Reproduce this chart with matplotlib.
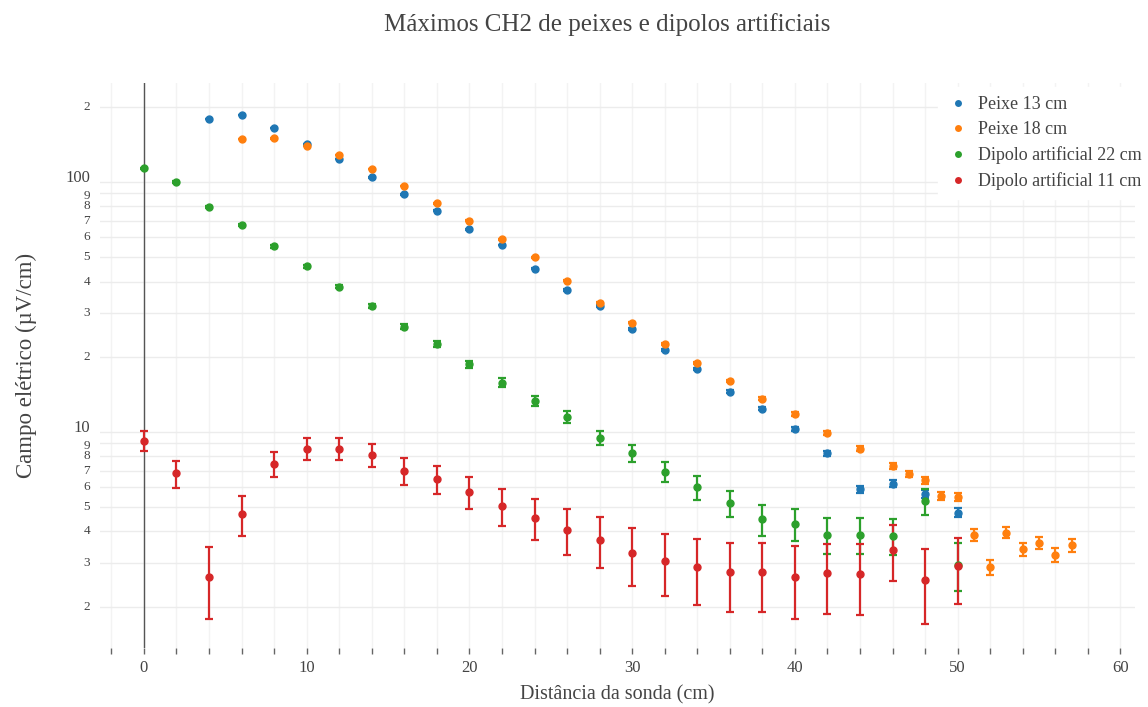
import matplotlib

matplotlib.use("Agg")
import matplotlib.pyplot as plt
import matplotlib.transforms as mtransforms
import numpy as np
from matplotlib.lines import Line2D
from matplotlib.ticker import FixedLocator, NullLocator

plt.rcParams["font.family"] = ["Liberation Serif", "DejaVu Serif"]

# ---------------------------------------------------------------------------
# data
# ---------------------------------------------------------------------------
peixe13_x = list(range(4, 51, 2))
peixe13_y = [178.6, 185.4, 164.9, 142.3, 123.3, 104.4, 89.3, 76.8, 64.7, 56.0,
             45.0, 37.0, 31.9, 25.8, 21.3, 17.9, 14.5, 12.4, 10.28, 8.22,
             5.90, 6.21, 5.65, 4.75]
peixe13_err = 0.2

peixe18_x = list(range(6, 47, 2)) + list(range(47, 58))
peixe18_y = [148.6, 149.5, 139.7, 127.9, 113.0, 96.4, 82.2, 70.0, 59.0, 50.1,
             40.3, 32.9, 27.4, 22.5, 18.9, 16.0, 13.6, 11.8, 9.94, 8.58,
             7.31, 6.78, 6.41, 5.53, 5.48, 3.88, 2.88, 3.96, 3.40, 3.59,
             3.23, 3.52]
peixe18_err = 0.2

dipolo22_x = list(range(0, 51, 2))
dipolo22_y = [113.4, 100.0, 79.7, 67.3, 55.3, 46.0, 38.2, 31.9, 26.4, 22.55,
              18.66, 15.75, 13.34, 11.48, 9.49, 8.24, 6.94, 6.01, 5.19, 4.48,
              4.30, 3.88, 3.88, 3.85, 5.28, 2.95]
dipolo22_err = 0.64

dipolo11_x = list(range(0, 51, 2))
dipolo11_y = [9.23, 6.84, 2.63, 4.70, 7.47, 8.58, 8.58, 8.09, 7.00, 6.49,
              5.75, 5.07, 4.54, 4.06, 3.70, 3.27, 3.05, 2.88, 2.75, 2.75,
              2.64, 2.72, 2.70, 3.38, 2.56, 2.91]
dipolo11_err = 0.85

series = [
    ("Peixe 13 cm", peixe13_x, peixe13_y, peixe13_err, "#1f77b4"),
    ("Peixe 18 cm", peixe18_x, peixe18_y, peixe18_err, "#ff7f0e"),
    ("Dipolo artificial 22 cm", dipolo22_x, dipolo22_y, dipolo22_err, "#2ca02c"),
    ("Dipolo artificial 11 cm", dipolo11_x, dipolo11_y, dipolo11_err, "#d62728"),
]

y_major = [10, 100]
y_minor = [2, 3, 4, 5, 6, 7, 8, 9, 20, 30, 40, 50, 60, 70, 80, 90, 200]

TXT = "#444444"
GRID = "#ececec"

fig = plt.figure(figsize=(11.48, 7.07), dpi=100)
ax = fig.add_axes([0.0871, 0.0835, 0.9016, 0.7991])

for label, x, y, err, color in series:
    ax.errorbar(x, y, yerr=err, fmt="o", color=color, ms=5,
                elinewidth=1.6, capsize=3.2, capthick=1.6, zorder=3)

ax.set_yscale("log")
ax.set_ylim(1.368, 249)
ax.set_xlim(-2.7, 60.9)

# y ticks: gridlines from the locator, labels drawn by hand so the
# crowded "10"/"9" and "100"/"9" pairs can be nudged apart
ticks = sorted(y_major + y_minor)
ax.yaxis.set_major_locator(FixedLocator(ticks))
ax.yaxis.set_minor_locator(NullLocator())
ax.tick_params(axis="y", length=0, labelleft=False)
ylab_tr = mtransforms.blended_transform_factory(ax.transAxes, ax.transData)
for t in ticks:
    if t in y_major:
        s, size, dy = str(t), 12, 4
    else:
        s, size = str(t)[0], 9.5
        dy = -2.5 if t in (9, 90) else 0
    off = mtransforms.ScaledTranslation(0, dy / 100, fig.dpi_scale_trans)
    ax.text(-0.0097, t, s, transform=ylab_tr + off, ha="right", va="center",
            fontsize=size, color=TXT)

# x ticks: labels every 10, tick marks every 2
ax.set_xticks([0, 10, 20, 30, 40, 50, 60])
ax.set_xticks(np.arange(-2, 61, 2), minor=True)
ax.tick_params(axis="x", which="major", length=4, width=1, color="#666666",
               labelsize=12, labelcolor=TXT, pad=5, direction="out")
ax.tick_params(axis="x", which="minor", length=4, width=1, color="#666666",
               direction="out")

ax.grid(True, which="major", axis="y", color=GRID, lw=1)
ax.grid(True, which="both", axis="x", color="#f3f3f3", lw=1)
ax.axvline(0, color="#555555", lw=1, zorder=2)
for s in ax.spines.values():
    s.set_visible(False)

ax.set_xlabel("Distância da sonda (cm)", fontsize=14.5, color=TXT, labelpad=6)
ax.set_ylabel("Campo elétrico (µV/cm)", fontsize=16.5, color=TXT)
ax.yaxis.set_label_coords(-0.061, 0.5)
fig.suptitle("Máximos CH2 de peixes e dipolos artificiais", fontsize=18,
             color=TXT, x=0.529, y=0.982)

handles = [Line2D([], [], marker="o", ls="none", color=c, ms=5, mew=0)
           for _, _, _, _, c in series]
leg = fig.legend(handles, [s[0] for s in series], loc="upper left",
                 bbox_to_anchor=(0.817, 0.877), frameon=True, fontsize=13,
                 handletextpad=0.5, handlelength=1.2, labelspacing=0.45,
                 borderpad=0.5, borderaxespad=0)
leg.get_frame().set_facecolor("white")
leg.get_frame().set_edgecolor("white")
leg.get_frame().set_alpha(1)
for t in leg.get_texts():
    t.set_color(TXT)

fig.savefig("out.png", dpi=100)
